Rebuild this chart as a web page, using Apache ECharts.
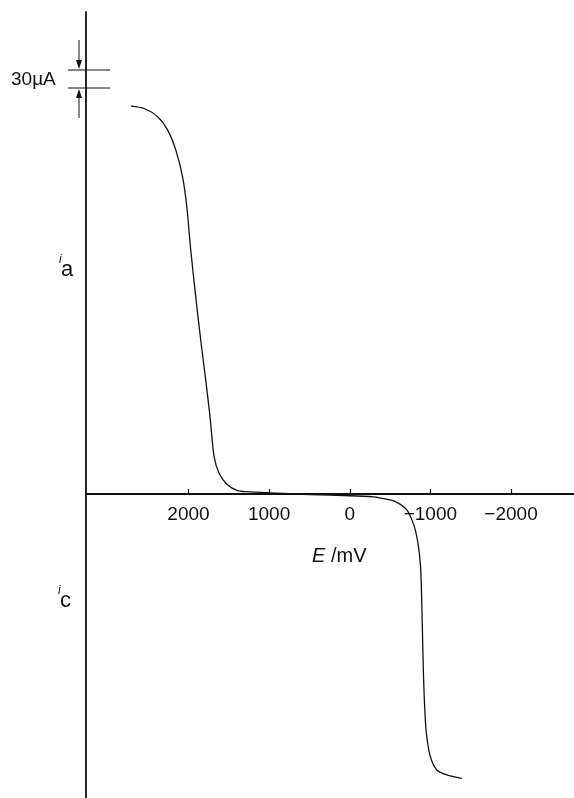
<!DOCTYPE html>
<html>
<head>
<meta charset="utf-8">
<script src="https://cdn.jsdelivr.net/npm/echarts@6/dist/echarts.min.js"></script>
<style>html,body{margin:0;padding:0;background:#fff;}#c{width:574px;height:798px;}</style>
</head>
<body>
<div id="c"></div>
<script>
// Potential E (mV) and current i (µA)
const potential = [2714, 2550, 2384, 2260, 2157, 2074, 2021, 1972, 1910, 1848, 1786, 1733, 1683, 1621, 1517, 1394, 1270, 994, 499, 0, -293, -380, -545, -710, -813, -875, -896, -916, -946, -999, -1082, -1205, -1391];
const current = [671, 667, 653, 630, 595, 549, 497, 422, 341, 266, 197, 134, 65, 36, 16, 6, 4, 2, -1, -3, -5, -7, -12, -28, -62, -120, -206, -322, -408, -454, -478, -486, -492];
const xTicks = [2000, 1000, 0, -1000, -2000];
const xRange = [-2781, 3271];
const yRange = [-526, 834];

const data = potential.map((e, k) => [e, current[k]]);
const font = 'Liberation Sans, Arial, sans-serif';
const gridTop = 12, gridBottom = 0, H = 798;
const plotH = H - gridTop - gridBottom;
// distance from grid bottom to the y=0 line, so the axis sits at zero current
const zeroOffset = -plotH * (0 - yRange[0]) / (yRange[1] - yRange[0]);
const chart = echarts.init(document.getElementById('c'), null, {renderer: 'canvas'});
chart.setOption({
  animation: false,
  backgroundColor: '#fff',
  grid: {left: 86, right: 0, top: gridTop, bottom: gridBottom, containLabel: false, outerBoundsMode: 'none'},
  xAxis: {
    type: 'value', inverse: true, min: xRange[0], max: xRange[1],
    position: 'bottom', offset: zeroOffset,
    axisLine: {onZero: false, lineStyle: {color: '#111', width: 1.8}},
    axisTick: {show: true, inside: true, length: 5, customValues: xTicks, lineStyle: {color: '#111', width: 1.2}},
    axisLabel: {show: true, customValues: xTicks, margin: 11, fontSize: 19, color: '#111', fontFamily: font,
      formatter: v => v < 0 ? '\u2212' + Math.abs(v) : String(v)},
    splitLine: {show: false}
  },
  yAxis: {
    type: 'value', min: yRange[0], max: yRange[1],
    axisLine: {show: true, onZero: false, lineStyle: {color: '#111', width: 1.8}},
    axisTick: {show: false}, axisLabel: {show: false}, splitLine: {show: false}
  },
  series: [{
    type: 'line', data: data, smooth: 0.25, showSymbol: false,
    lineStyle: {color: '#111', width: 1.3}
  }],
  graphic: [
    {type: 'line', shape: {x1: 68, y1: 70, x2: 110, y2: 70}, style: {stroke: '#111', lineWidth: 1}},
    {type: 'line', shape: {x1: 68, y1: 88, x2: 110, y2: 88}, style: {stroke: '#111', lineWidth: 1}},
    {type: 'line', shape: {x1: 79, y1: 40, x2: 79, y2: 62}, style: {stroke: '#111', lineWidth: 1}},
    {type: 'polygon', shape: {points: [[76, 60], [82, 60], [79, 69]]}, style: {fill: '#111'}},
    {type: 'line', shape: {x1: 79, y1: 96, x2: 79, y2: 118}, style: {stroke: '#111', lineWidth: 1}},
    {type: 'polygon', shape: {points: [[76, 98], [82, 98], [79, 89]]}, style: {fill: '#111'}},
    {type: 'text', left: 11, top: 70, style: {text: '30µA', fontSize: 19, fill: '#111', fontFamily: font}},
    {type: 'text', left: 59, top: 254, style: {text: 'i', fontSize: 12, fontStyle: 'italic', fill: '#111', fontFamily: font}},
    {type: 'text', left: 61, top: 259, style: {text: 'a', fontSize: 22, fill: '#111', fontFamily: font}},
    {type: 'text', left: 58, top: 585, style: {text: 'i', fontSize: 12, fontStyle: 'italic', fill: '#111', fontFamily: font}},
    {type: 'text', left: 60, top: 590, style: {text: 'c', fontSize: 22, fill: '#111', fontFamily: font}},
    {type: 'text', left: 312, top: 546, style: {text: 'E', fontSize: 20, fontStyle: 'italic', fill: '#111', fontFamily: font}},
    {type: 'text', left: 331, top: 546, style: {text: '/mV', fontSize: 20, fill: '#111', fontFamily: font}}
  ]
});
</script>
</body>
</html>
